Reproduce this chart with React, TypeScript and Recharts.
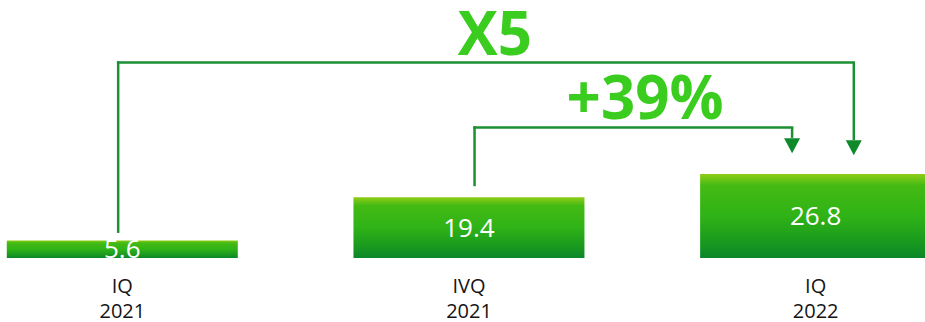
import React from 'react';
import { BarChart, Bar, XAxis, YAxis, LabelList, ReferenceLine, ReferenceDot } from 'recharts';

const categories = ['IQ 2021', 'IVQ 2021', 'IQ 2022'];
const values = [5.6, 19.4, 26.8];

// Annotation brackets, in data units (x = category index + offset, y in value units)
const bracketLabels = ['X5', '+39%'];
const bracketFrom = [-0.012, 1.016];
const bracketTo = [2.11, 1.932];
const bracketTop = [62.4, 41.6];
const bracketBase = [8.4, 23.3];
const bracketArrowBase = [37.6, 38.3];
const bracketArrowTip = [32.8, 33.4];
const bracketLabelX = [1.075, 1.508];
const bracketLabelY = [64.7, 44.3];

const data = categories.map((c, i) => ({ name: c, value: values[i], idx: i }));

const LINE = '#1b9134';
const ARROW = '#0e8a2a';
const BIG = '#3acc1e';
const FONT = '"Open Sans", "Noto Sans", sans-serif';

const Tick = (props: any) => {
  const { x, y, payload } = props;
  const parts = String(payload.value).split(' ');
  return (
    <text x={x} y={y} textAnchor="middle" fill="#141414" fontSize={20} fontFamily={FONT}>
      <tspan x={x} dy={27}>{parts[0]}</tspan>
      <tspan x={x} dy={25}>{parts[1]}</tspan>
    </text>
  );
};

const Arrow = (props: any) => {
  const { cx, cy } = props;
  return <polygon points={`${cx},${cy} ${cx - 8},${cy - 15} ${cx + 8},${cy - 15}`} fill={ARROW} />;
};

const makeText = (label: string) => (props: any) => {
  const { cx, cy } = props;
  return (
    <text x={cx} y={cy} textAnchor="middle" fill={BIG} fontSize={60} fontWeight={700} fontFamily={FONT}>
      {label}
    </text>
  );
};

export default function App() {
  return (
    <div style={{ position: 'absolute', left: 0, top: 0, width: 925, height: 322, overflow: 'hidden', background: '#fff' }}>
      <div style={{ position: 'absolute', left: -51, top: 0 }}>
        <BarChart width={1040} height={322} data={data} margin={{ top: 0, right: 0, bottom: 0, left: 0 }} barCategoryGap="16.67%">
          <defs>
            <linearGradient id="barGrad" x1="0" y1="0" x2="0" y2="1">
              <stop offset="0%" stopColor="#8fcd17" />
              <stop offset="14%" stopColor="#44ba14" />
              <stop offset="50%" stopColor="#2fb316" />
              <stop offset="80%" stopColor="#1a9a1e" />
              <stop offset="100%" stopColor="#0b8729" />
            </linearGradient>
          </defs>
          <XAxis dataKey="name" axisLine={false} tickLine={false} height={64} tick={<Tick />} interval={0} />
          <XAxis xAxisId="pos" dataKey="idx" type="number" domain={[-0.5, 2.5]} hide allowDataOverflow />
          <YAxis domain={[0, 82.3]} hide allowDataOverflow />
          <Bar dataKey="value" fill="url(#barGrad)" isAnimationActive={false}>
            <LabelList dataKey="value" position="center" fill="#ffffff" fontSize={26} fontFamily={FONT} />
          </Bar>
          {bracketLabels.map((lab, i) => (
            <React.Fragment key={lab}>
              <ReferenceLine xAxisId="pos" segment={[{ x: bracketFrom[i], y: bracketBase[i] }, { x: bracketFrom[i], y: bracketTop[i] }]} stroke={LINE} strokeWidth={2.5} strokeLinecap="square" />
              <ReferenceLine xAxisId="pos" segment={[{ x: bracketFrom[i], y: bracketTop[i] }, { x: bracketTo[i], y: bracketTop[i] }]} stroke={LINE} strokeWidth={2.5} strokeLinecap="square" />
              <ReferenceLine xAxisId="pos" segment={[{ x: bracketTo[i], y: bracketTop[i] }, { x: bracketTo[i], y: bracketArrowBase[i] }]} stroke={LINE} strokeWidth={2.5} strokeLinecap="butt" />
              <ReferenceDot xAxisId="pos" x={bracketTo[i]} y={bracketArrowTip[i]} r={0} shape={Arrow} />
              <ReferenceDot xAxisId="pos" x={bracketLabelX[i]} y={bracketLabelY[i]} r={0} shape={makeText(lab)} />
            </React.Fragment>
          ))}
        </BarChart>
      </div>
    </div>
  );
}
